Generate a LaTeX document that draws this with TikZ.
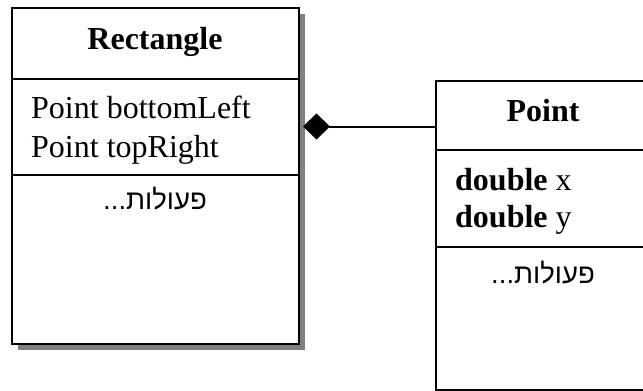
\documentclass[tikz,border=0pt]{standalone}
\usepackage{fontspec}
\setmainfont{Liberation Serif}
\newfontfamily\hebfont[Script=Hebrew]{Liberation Sans}
\TeXXeTstate=1
\usetikzlibrary{arrows.meta,shadows}
\begin{document}
\begin{tikzpicture}[x=1pt,y=-1pt,
  classbox/.style={draw=black, line width=2pt, fill=white, inner sep=0pt, anchor=north west},
  shadowed/.style={drop shadow={shadow xshift=6pt, shadow yshift=-6pt, fill=black!50, opacity=1}},
  divider/.style={line width=2pt},
  title/.style={font=\fontsize{32}{38}\selectfont\bfseries, anchor=base, inner sep=0pt},
  attr/.style={font=\fontsize{32}{38}\selectfont, anchor=base west, inner sep=0pt},
  heb/.style={font=\fontsize{27.5}{32}\selectfont\hebfont, anchor=base, inner sep=0pt},
  link/.style={line width=2pt, -{Diamond[length=27pt,width=26pt]}}]
\useasboundingbox (0,0) rectangle (643,391);
\clip (0,0) rectangle (643,391);
% Rectangle class
\node[classbox, shadowed, minimum width=287pt, minimum height=336pt] (rect) at (11,7) {};
\draw[divider] (rect.west |- 0,79) -- (rect.east |- 0,79);
\draw[divider] (rect.west |- 0,175) -- (rect.east |- 0,175);
\node[title] (rectTitle) at (155,49) {Rectangle};
\node[attr] (rectA1) at (31,118) {Point bottomLeft};
\node[attr] (rectA2) at (31,157) {Point topRight};
\node[heb] (rectOps) at (155,209) {\beginR פעולות...\endR};
% Point class
\node[classbox, minimum width=216pt, minimum height=309pt] (pt) at (435,80) {};
\draw[divider] (pt.west |- 0,150) -- (pt.east |- 0,150);
\draw[divider] (pt.west |- 0,247) -- (pt.east |- 0,247);
\node[title] (ptTitle) at (543,121) {Point};
\node[attr] (ptA1) at (455,190) {\textbf{double} x};
\node[attr] (ptA2) at (455,227) {\textbf{double} y};
\node[heb] (ptOps) at (543,283) {\beginR פעולות...\endR};
% composition
\coordinate (diaTip) at (303,126.5);
\draw[link] (pt.west |- diaTip) -- (diaTip);
\end{tikzpicture}
\end{document}
